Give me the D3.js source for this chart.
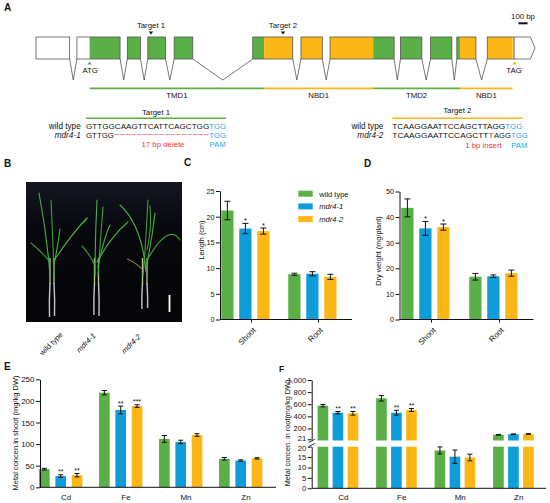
<!DOCTYPE html>
<html>
<head>
<meta charset="utf-8">
<script src="https://cdn.jsdelivr.net/npm/d3@7"></script>
<style>
  body { margin: 0; background: #fff; }
  svg { font-family: Arial, "Liberation Sans", Helvetica, sans-serif; }
</style>
</head>
<body>
<svg id="fig" width="550" height="503"></svg>
<script>
// ---- data ----
var genotypes = ['wild type', 'mdr4-1', 'mdr4-2'];
var genoColors = ['#5aaf47', '#0f9dda', '#fcb717'];

// gene model (bp)
var exonBlocks = [[0, 370], [450, 925], [1005, 1150], [1230, 1425], [1520, 1725], [2385, 2825],
  [2915, 3150], [3235, 3940], [4010, 4245], [4340, 4575], [4630, 4840], [4965, 5260]];
var utr3 = [5260, 5490];
var domains = [
  { name: 'TMD1', start: 590, end: 2510, type: 'tmd' },
  { name: 'NBD1', start: 2510, end: 3710, type: 'nbd' },
  { name: 'TMD2', start: 3710, end: 4665, type: 'tmd' },
  { name: 'NBD1', start: 4665, end: 5245, type: 'nbd' }
];
var atgPos = 590, tagPos = 5265;
var targetNames = ['Target 1', 'Target 2'];
var targetPos = [1265, 2717];

// sequences
var wtSeq1 = 'GTTGGCAAGTTCATTCAGCTGG', mutKept1 = 'GTTGG', delLen1 = 17;
var wtSeq2 = 'TCAAGGAATTCCAGCTTAGG', mutSeq2 = ['TCAAGGAATTCCAGCTT', 'T', 'AGG'];
var pamSeq = 'TGG';

// panel C / D
var organs = ['Shoot', 'Root'];
var lengthMean = [[21.2, 17.7, 17.2], [8.8, 8.9, 8.3]];
var lengthErr = [[1.8, 1.0, 0.6], [0.2, 0.4, 0.5]];
var lengthSig = [['', '*', '*'], ['', '', '']];
var weightMean = [[43.6, 35.6, 36.1], [16.7, 16.9, 18.1]];
var weightErr = [[3.5, 2.7, 1.2], [1.3, 0.5, 1.2]];
var weightSig = [['', '*', '*'], ['', '', '']];

// panel E / F
var metals = ['Cd', 'Fe', 'Mn', 'Zn'];
var shootMean = [[42, 26, 28], [219, 179, 188], [112, 105, 121], [66, 62, 67]];
var shootErr = [[2, 3, 4], [5, 9, 3], [8, 4, 3], [3, 1.5, 1.5]];
var shootSig = [['', '**', '**'], ['', '**', '***'], ['', '', ''], ['', '', '']];
var rootMean = [[576, 460, 450], [698, 460, 505], [18.2, 15.2, 14.8], [95, 104, 108]];
var rootErr = [[20, 20, 30], [45, 40, 25], [1.7, 3.2, 1.6], [6, 6, 6]];
var rootSig = [['', '**', '**'], ['', '**', '**'], ['', '', ''], ['', '', '']];

var lenTicks = [0, 5, 10, 15, 20, 25];
var wtTicks = [0, 10, 20, 30, 40, 50];
var shootTicks = [0, 50, 100, 150, 200, 250];
var rootTopTicks = [21, 200, 400, 600, 800, 1000];
var rootBotTicks = [0, 5, 10, 15, 20];

var svg = d3.select('#fig');
var ff = 'Arial, "Liberation Sans", Helvetica, sans-serif';
var green = genoColors[0], orange = genoColors[2];
var pamBlue = '#27a9e1', red = '#f5333f';

function txt(x, y, s, size, opts) {
  opts = opts || {};
  var t = svg.append('text').attr('x', x).attr('y', y).attr('font-size', size)
    .attr('text-anchor', opts.anchor || 'start').attr('fill', opts.fill || '#111').text(s);
  if (opts.bold) t.attr('font-weight', 'bold');
  if (opts.italic) t.attr('font-style', 'italic');
  if (opts.len) t.attr('textLength', opts.len).attr('lengthAdjust', 'spacingAndGlyphs');
  return t;
}

// panel letters
txt(4, 11, 'A', 10, { bold: true });
txt(4, 167, 'B', 10, { bold: true });
txt(184, 166, 'C', 10, { bold: true });
txt(364, 166.5, 'D', 10, { bold: true });
txt(4, 370, 'E', 10, { bold: true });
txt(279, 371.5, 'F', 8.5, { bold: true });

// ---------------- panel A ----------------
var gx = d3.scaleLinear().domain([0, 5490]).range([36, 535]);
var exTop = 37, exBot = 59, intronY = 80;
var gA = svg.append('g');

function cdsColor(a, b) {
  var segs = [];
  domains.forEach(function (d) {
    var s = Math.max(a, d.start), e = Math.min(b, d.end);
    if (e > s) segs.push([s, e, d.type === 'tmd' ? green : orange]);
  });
  return segs;
}

// introns
for (var i = 0; i < exonBlocks.length; i++) {
  var a = exonBlocks[i][1];
  var b = i + 1 < exonBlocks.length ? exonBlocks[i + 1][0] : null;
  if (b === null || b - a < 10) continue;
  gA.append('path')
    .attr('d', 'M' + gx(a) + ',' + exBot + 'L' + gx((a + b) / 2) + ',' + intronY + 'L' + gx(b) + ',' + exBot)
    .attr('fill', 'none').attr('stroke', '#555').attr('stroke-width', 0.8);
}
// exons
exonBlocks.forEach(function (blk) {
  gA.append('rect').attr('x', gx(blk[0])).attr('y', exTop).attr('width', gx(blk[1]) - gx(blk[0]))
    .attr('height', exBot - exTop).attr('fill', '#fff');
  cdsColor(blk[0], blk[1]).forEach(function (s) {
    gA.append('rect').attr('x', gx(s[0])).attr('y', exTop).attr('width', gx(s[1]) - gx(s[0]))
      .attr('height', exBot - exTop).attr('fill', s[2]);
  });
  gA.append('rect').attr('x', gx(blk[0])).attr('y', exTop).attr('width', gx(blk[1]) - gx(blk[0]))
    .attr('height', exBot - exTop).attr('fill', 'none').attr('stroke', '#555').attr('stroke-width', 0.8);
});
// 3' UTR arrow
var ua = gx(utr3[0]), ub = gx(utr3[1]), uk = ua + (ub - ua) * 0.78;
gA.append('path')
  .attr('d', 'M' + ua + ',' + exTop + 'L' + uk + ',' + exTop + 'L' + ub + ',' + (exTop + exBot) / 2 +
    'L' + uk + ',' + exBot + 'L' + ua + ',' + exBot + 'Z')
  .attr('fill', '#fff').attr('stroke', '#555').attr('stroke-width', 0.8);

// ATG / TAG
function tri(x, y, up, col) {
  var h = 3, w = 2.2;
  gA.append('path').attr('d', up ?
    'M' + x + ',' + y + 'l' + (-w) + ',' + h + 'h' + (2 * w) + 'Z' :
    'M' + x + ',' + y + 'l' + (-w) + ',' + (-h) + 'h' + (2 * w) + 'Z').attr('fill', col);
}
tri(gx(atgPos), 61.5, true, green);
txt(gx(atgPos) + 0.5, 72.5, 'ATG', 7.8, { anchor: 'middle' });
tri(gx(tagPos), 61.5, true, orange);
txt(gx(tagPos) - 0.5, 72.5, 'TAG', 7.8, { anchor: 'middle' });

// targets
targetNames.forEach(function (n, k) {
  tri(gx(targetPos[k]), 34.5, false, '#111');
  txt(gx(targetPos[k]), 27.5, n, 7.8, { anchor: 'middle' });
});

// scale bar
var sb0 = 518.5;
gA.append('rect').attr('x', sb0).attr('y', 22.3).attr('width', gx(100) - gx(0)).attr('height', 2).attr('fill', '#111');
txt(sb0 + (gx(100) - gx(0)) / 2, 19, '100 bp', 7.8, { anchor: 'middle' });

// domains
domains.forEach(function (d) {
  gA.append('line').attr('x1', gx(d.start)).attr('x2', gx(d.end)).attr('y1', 88.3).attr('y2', 88.3)
    .attr('stroke', d.type === 'tmd' ? green : orange).attr('stroke-width', 1.8);
  txt(gx((d.start + d.end) / 2), 97.7, d.name, 7.8, { anchor: 'middle' });
});

// sequences
var cw1 = 5.6, sx1 = 86;
txt((sx1 + sx1 + (wtSeq1.length + 3) * cw1) / 2, 114.5, 'Target 1', 7.8, { anchor: 'middle' });
gA.append('line').attr('x1', sx1).attr('x2', sx1 + (wtSeq1.length + 3) * cw1).attr('y1', 118.3).attr('y2', 118.3)
  .attr('stroke', green).attr('stroke-width', 1.6);
txt(80.7, 129, 'wild type', 8.2, { anchor: 'end' });
txt(sx1, 129, wtSeq1, 8, { len: wtSeq1.length * cw1 });
txt(sx1 + wtSeq1.length * cw1, 129, pamSeq, 8, { fill: pamBlue, len: 3 * cw1 });
txt(80.7, 137.5, 'mdr4-1', 8.2, { anchor: 'end', italic: true });
txt(sx1, 137.5, mutKept1, 8, { len: mutKept1.length * cw1 });
txt(sx1 + mutKept1.length * cw1, 136.5, d3.range(delLen1).map(function () { return '~'; }).join(''), 8,
  { fill: red, len: delLen1 * cw1 });
txt(sx1 + (mutKept1.length + delLen1) * cw1, 137.5, pamSeq, 8, { fill: pamBlue, len: 3 * cw1 });
txt(163, 147.3, '17 bp delete', 7.8, { anchor: 'middle', fill: red });
txt(sx1 + (wtSeq1.length + 1.5) * cw1, 147.3, 'PAM', 7.8, { anchor: 'middle', fill: pamBlue });

var cw2 = 5.65, sx2 = 392.3;
txt(sx2 + (wtSeq2.length + 3) * cw2 / 2, 113, 'Target 2', 7.8, { anchor: 'middle' });
gA.append('line').attr('x1', sx2).attr('x2', sx2 + (wtSeq2.length + 3) * cw2).attr('y1', 118.3).attr('y2', 118.3)
  .attr('stroke', orange).attr('stroke-width', 1.6);
txt(383.3, 129, 'wild type', 8.2, { anchor: 'end' });
txt(sx2, 129, wtSeq2, 8, { len: wtSeq2.length * cw2 });
txt(sx2 + wtSeq2.length * cw2, 129, pamSeq, 8, { fill: pamBlue, len: 3 * cw2 });
txt(383.3, 137.5, 'mdr4-2', 8.2, { anchor: 'end', italic: true });
var pos2 = sx2;
mutSeq2.forEach(function (s, k) {
  txt(pos2, 137.5, s, 8, { fill: k === 1 ? red : '#111', len: s.length * cw2 });
  pos2 += s.length * cw2;
});
txt(pos2, 137.5, pamSeq, 8, { fill: pamBlue, len: 3 * cw2 });
txt(pos2 - 1.5 * cw2 - 19, 148, '1 bp insert', 7.8, { anchor: 'middle', fill: red });
txt(pos2 + 1.5 * cw2, 148, 'PAM', 7.8, { anchor: 'middle', fill: pamBlue });

// ---------------- panel B (photo) ----------------
var gB = svg.append('g');
var bg = svg.append('defs').append('linearGradient').attr('id', 'photoBg').attr('x1', 0).attr('y1', 0).attr('x2', 0).attr('y2', 1);
bg.append('stop').attr('offset', 0).attr('stop-color', '#141722');
bg.append('stop').attr('offset', 0.35).attr('stop-color', '#07080d');
bg.append('stop').attr('offset', 1).attr('stop-color', '#050507');
gB.append('rect').attr('x', 26).attr('y', 182).attr('width', 156).attr('height', 140).attr('fill', 'url(#photoBg)');

var plantStems = [[50, 54], [94.5, 98.5], [142.5, 147]];
var rootEnds = [[317, 316], [315, 316], [309, 308]];
var leaves = [
  [50, 276, 47, 235, 39, 193], [54, 276, 53, 240, 51, 200], [53, 262, 70, 236, 87, 218],
  [50, 262, 40, 250, 31, 243], [54, 265, 58, 245, 60, 229], [87, 218, 86, 221, 81, 224],
  [95, 276, 95, 240, 97, 200], [98, 276, 100, 245, 103, 207], [97, 262, 112, 235, 128, 222],
  [95, 265, 88, 252, 82, 246], [98, 268, 103, 240, 110, 225],
  [143, 276, 146, 240, 148, 200], [146, 272, 142, 225, 120, 205], [146, 262, 168, 222, 180, 240],
  [146, 268, 152, 240, 155, 213], [147, 250, 152, 228, 150, 206]
];
var dryLeaf = [143, 270, 135, 262, 127, 259];

plantStems.forEach(function (p, k) {
  p.forEach(function (x, m) {
    gB.append('path').attr('d', 'M' + x + ',283Q' + (x + (m ? 1 : -1)) + ',300 ' + (x + (m ? 0.5 : -0.5)) + ',' + rootEnds[k][m])
      .attr('fill', 'none').attr('stroke', '#d6dbe0').attr('stroke-width', 1.4).attr('opacity', 0.9);
    gB.append('line').attr('x1', x).attr('x2', x).attr('y1', 284).attr('y2', 258)
      .attr('stroke', '#b3cf92').attr('stroke-width', 1.3);
  });
});
leaves.forEach(function (l, k) {
  gB.append('path').attr('d', 'M' + l[0] + ',' + l[1] + 'Q' + l[2] + ',' + l[3] + ' ' + l[4] + ',' + l[5])
    .attr('fill', 'none').attr('stroke', k % 2 ? '#3f9d3a' : '#4cae45').attr('stroke-width', 1.1)
    .attr('stroke-linecap', 'round');
});
gB.append('path').attr('d', 'M' + dryLeaf[0] + ',' + dryLeaf[1] + 'Q' + dryLeaf[2] + ',' + dryLeaf[3] + ' ' + dryLeaf[4] + ',' + dryLeaf[5])
  .attr('fill', 'none').attr('stroke', '#8a7a3a').attr('stroke-width', 1.1);
gB.append('line').attr('x1', 169.5).attr('x2', 169.5).attr('y1', 295).attr('y2', 312).attr('stroke', '#fff').attr('stroke-width', 1.8);

var photoLabelX = [60, 93, 138];
genotypes.forEach(function (gt, k) {
  gB.append('text').attr('transform', 'translate(' + photoLabelX[k] + ',' + (332 + k) + ') rotate(-45)')
    .attr('text-anchor', 'end').attr('font-size', 7.5).attr('dy', '0.6em')
    .attr('font-style', k ? 'italic' : 'normal').attr('fill', '#111').text(gt);
});

// ---------------- bar helpers ----------------
function styleAxis(g, size) {
  g.attr('font-family', ff).attr('font-size', size);
  g.selectAll('path.domain').attr('stroke', '#111').attr('stroke-width', 1);
  g.selectAll('.tick line').attr('stroke', '#111');
  g.selectAll('.tick text').attr('fill', '#111');
}

function rows(cats, means, errs, sigs) {
  var out = [];
  cats.forEach(function (c, i) {
    genotypes.forEach(function (gt, j) {
      out.push({ cat: c, geno: gt, j: j, mean: means[i][j], err: errs[i][j], sig: sigs[i][j] });
    });
  });
  return out;
}

function drawBars(g, data, x0, x1, y, capW, sigSize) {
  var cx = function (d) { return x0(d.cat) + x0.bandwidth() / 2 + x1(d.geno) + x1.bandwidth() / 2; };
  g.selectAll('rect.bar').data(data).enter().append('rect').attr('class', 'bar')
    .attr('x', function (d) { return cx(d) - x1.bandwidth() / 2; })
    .attr('width', x1.bandwidth())
    .attr('y', function (d) { return y(d.mean); })
    .attr('height', function (d) { return y(0) - y(d.mean); })
    .attr('fill', function (d) { return genoColors[d.j]; });
  drawErr(g, data, cx, y, capW, sigSize);
}

function drawErr(g, data, cx, y, capW, sigSize) {
  var e = g.selectAll('g.err').data(data).enter().append('g').attr('class', 'err');
  e.append('path').attr('d', function (d) {
    var x = cx(d), t = y(d.mean + d.err), b = y(d.mean - d.err);
    return 'M' + x + ',' + t + 'V' + b + 'M' + (x - capW / 2) + ',' + t + 'h' + capW +
      'M' + (x - capW / 2) + ',' + b + 'h' + capW;
  }).attr('stroke', '#111').attr('stroke-width', 1).attr('fill', 'none');
  e.filter(function (d) { return d.sig; }).append('text')
    .attr('x', cx).attr('y', function (d) { return y(d.mean + d.err) - 0.5; })
    .attr('text-anchor', 'middle').attr('font-size', sigSize).attr('fill', '#111')
    .text(function (d) { return d.sig; });
}

function organPanel(range, yRange, domainMax, ticks, means, errs, sigs, ylabel, ylabX, ylabY, legend) {
  var g = svg.append('g');
  var x0 = d3.scaleBand().domain(organs).range(range);
  var x1 = d3.scaleBand().domain(genotypes).range([-27, 27]).paddingInner(0.32).paddingOuter(0.16);
  x1.range([-27 - x1.bandwidth() / 2, 27 - x1.bandwidth() / 2]);
  var y = d3.scaleLinear().domain([0, domainMax]).range(yRange);
  drawBars(g, rows(organs, means, errs, sigs), x0, x1, y, 6, 7.5);
  var ya = g.append('g').attr('transform', 'translate(' + (range[0] + 2) + ',0)')
    .call(d3.axisLeft(y).tickValues(ticks).tickSize(4).tickSizeOuter(0).tickPadding(1.5));
  styleAxis(ya, 7.2);
  var xa = g.append('g').attr('transform', 'translate(0,' + yRange[0] + ')')
    .call(d3.axisBottom(x0).tickSize(3).tickSizeOuter(0));
  styleAxis(xa, 8);
  xa.select('path.domain').attr('d', 'M' + (range[0] + 2) + ',0H' + range[1]);
  xa.selectAll('.tick text').attr('transform', 'rotate(-45)').attr('text-anchor', 'end')
    .attr('x', -4.5).attr('y', 8.5).attr('dy', '0.35em');
  g.append('text').attr('transform', 'translate(' + ylabX + ',' + ylabY + ') rotate(-90)')
    .attr('text-anchor', 'middle').attr('font-size', 7.3).attr('fill', '#111').text(ylabel);
  if (legend) {
    genotypes.forEach(function (gt, k) {
      g.append('rect').attr('x', 298.3).attr('y', 190.7 + k * 12.7).attr('width', 14.4).attr('height', 6)
        .attr('fill', genoColors[k]);
      g.append('text').attr('x', 319.3).attr('y', 196.5 + k * 12.7).attr('font-size', 7.5)
        .attr('font-style', k ? 'italic' : 'normal').attr('fill', '#111').text(gt);
    });
  }
}

organPanel([218, 352], [319.5, 191], 25, lenTicks, lengthMean, lengthErr, lengthSig, 'Length (cm)', 204, 240, true);
organPanel([397.5, 533.5], [319.5, 191.5], 50, wtTicks, weightMean, weightErr, weightSig, 'Dry weight (mg/plant)', 380.5, 251, false);

// ---------------- panel E ----------------
(function () {
  var g = svg.append('g');
  var x0 = d3.scaleBand().domain(metals).range([36, 276]);
  var x1 = d3.scaleBand().domain(genotypes).range([-24.5, 24.5]).paddingInner(0.35).paddingOuter(0.175);
  x1.range([-24.5 - x1.bandwidth() / 2, 24.5 - x1.bandwidth() / 2]);
  var y = d3.scaleLinear().domain([0, 250]).range([487.3, 379.3]);
  drawBars(g, rows(metals, shootMean, shootErr, shootSig), x0, x1, y, 5, 7);
  var ya = g.append('g').attr('transform', 'translate(40,0)')
    .call(d3.axisLeft(y).tickValues(shootTicks).tickSize(4).tickSizeOuter(0).tickPadding(1.5));
  styleAxis(ya, 8);
  var xa = g.append('g').attr('transform', 'translate(0,487.3)')
    .call(d3.axisBottom(x0).tickSize(0).tickPadding(7.5));
  styleAxis(xa, 8);
  xa.select('path.domain').attr('d', 'M40,0H276');
  g.append('text').attr('transform', 'translate(18,433) rotate(-90)').attr('text-anchor', 'middle')
    .attr('font-size', 7.5).attr('fill', '#111').text('Metal concen.in shoot (mg/kg DW)');
})();

// ---------------- panel F (broken axis) ----------------
(function () {
  var g = svg.append('g');
  var axX = 311.7;
  var x0 = d3.scaleBand().domain(metals).range([314, 548]);
  var x1 = d3.scaleBand().domain(genotypes).range([-22.5, 22.5]).paddingInner(0.29).paddingOuter(0.145);
  x1.range([-22.5 - x1.bandwidth() / 2, 22.5 - x1.bandwidth() / 2]);
  var yTop = d3.scaleLinear().domain([21, 1000]).range([439.3, 380]);
  var yBot = d3.scaleLinear().domain([0, 20]).range([488.3, 446.7]);
  var data = rows(metals, rootMean, rootErr, rootSig);
  var cx = function (d) { return x0(d.cat) + x0.bandwidth() / 2 + x1(d.geno) + x1.bandwidth() / 2; };
  var bw = x1.bandwidth();
  // lower segment
  g.selectAll('rect.lo').data(data).enter().append('rect').attr('class', 'lo')
    .attr('x', function (d) { return cx(d) - bw / 2; }).attr('width', bw)
    .attr('y', function (d) { return yBot(Math.min(d.mean, 20)); })
    .attr('height', function (d) { return yBot(0) - yBot(Math.min(d.mean, 20)); })
    .attr('fill', function (d) { return genoColors[d.j]; });
  // upper segment
  var hi = data.filter(function (d) { return d.mean > 21; });
  var lo = data.filter(function (d) { return d.mean <= 21; });
  g.selectAll('rect.hi').data(hi).enter().append('rect').attr('class', 'hi')
    .attr('x', function (d) { return cx(d) - bw / 2; }).attr('width', bw)
    .attr('y', function (d) { return yTop(d.mean); })
    .attr('height', function (d) { return yTop(21) + 1.2 - yTop(d.mean); })
    .attr('fill', function (d) { return genoColors[d.j]; });
  var gh = g.append('g'), gl = g.append('g');
  drawErr(gh, hi, cx, yTop, 5, 7);
  drawErr(gl, lo, cx, yBot, 5, 7);

  var ta = g.append('g').attr('transform', 'translate(' + axX + ',0)')
    .call(d3.axisLeft(yTop).tickValues(rootTopTicks).tickSize(4).tickSizeOuter(0).tickPadding(1.5));
  styleAxis(ta, 7.6);
  var ba = g.append('g').attr('transform', 'translate(' + axX + ',0)')
    .call(d3.axisLeft(yBot).tickValues(rootBotTicks).tickSize(4).tickSizeOuter(0).tickPadding(1.5));
  styleAxis(ba, 7.6);
  ta.selectAll('.tick text').filter(function (d) { return d === 21; }).attr('dy', '0.22em');
  ba.selectAll('.tick text').filter(function (d) { return d === 20; }).attr('dy', '0.45em');
  // break marks
  var yb1 = yTop(21) + 1.6, yb2 = yBot(20) - 1.6;
  [yb1, yb2].forEach(function (yy) {
    g.append('line').attr('x1', axX - 3).attr('x2', axX + 3).attr('y1', yy + 1.5).attr('y2', yy - 1.5)
      .attr('stroke', '#111').attr('stroke-width', 0.9);
  });
  var xa = g.append('g').attr('transform', 'translate(0,' + yBot(0) + ')')
    .call(d3.axisBottom(x0).tickSize(0).tickPadding(6.4));
  styleAxis(xa, 8);
  xa.select('path.domain').attr('d', 'M' + axX + ',0H546');
  g.append('text').attr('transform', 'translate(289.5,433) rotate(-90)').attr('text-anchor', 'middle')
    .attr('font-size', 7.3).attr('fill', '#111').text('Metal concen. in root(mg/kg DW)');
})();
</script>
</body>
</html>
